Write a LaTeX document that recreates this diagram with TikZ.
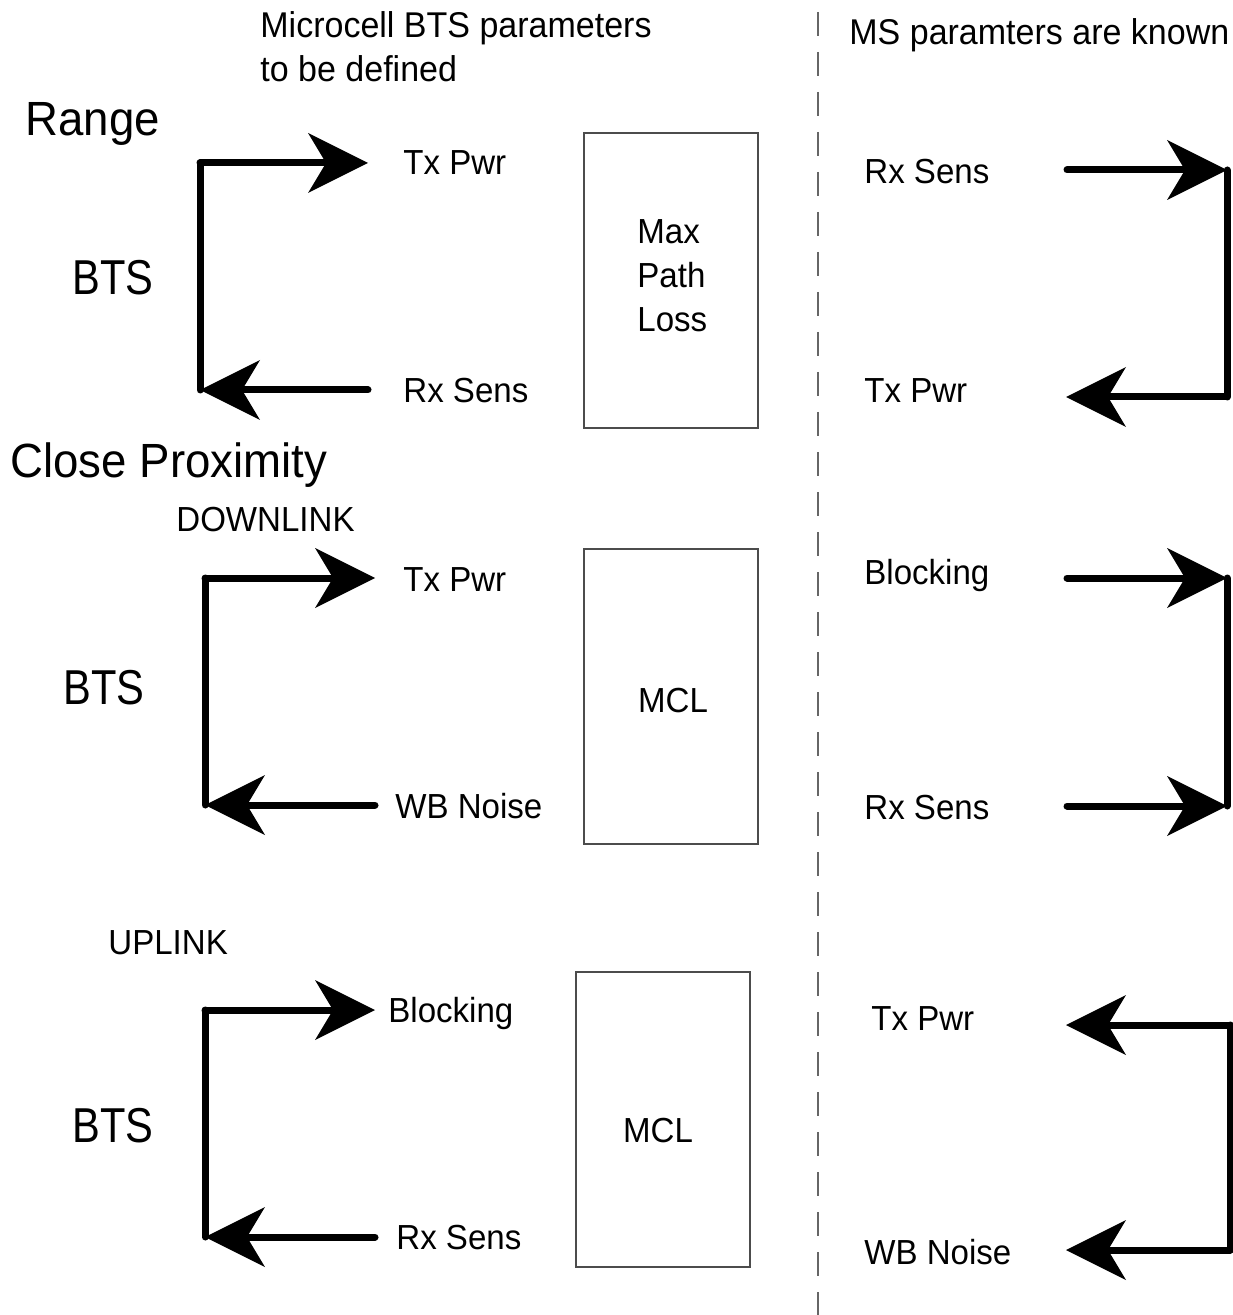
\documentclass[tikz,border=0pt]{standalone}
\usepackage{fontspec}
\setmainfont[FakeStretch=0.95]{Liberation Sans}
\newfontfamily\btsfont[FakeStretch=0.85]{Liberation Sans}
\usetikzlibrary{arrows.meta}
\begin{document}
\begin{tikzpicture}[x=0.5pt,y=-0.5pt,
  lbl/.style={anchor=base west, inner sep=0pt, font=\fontsize{17.4}{20}\selectfont},
  hdr/.style={anchor=base west, inner sep=0pt, font=\fontsize{17.9}{22}\selectfont},
  big/.style={anchor=base west, inner sep=0pt, font=\fontsize{24}{28}\selectfont},
  bts/.style={anchor=base west, inner sep=0pt, font=\btsfont\fontsize{24.5}{28}\selectfont},
  boxtxt/.style={inner sep=0pt, font=\fontsize{17.4}{20}\selectfont},
  bar/.style={line width=3.5pt, line cap=round},
  arr/.style={line width=3.5pt, line cap=round, -{Stealth[length=30pt,width=30pt,inset=9pt,line width=0pt]}},
  box/.style={draw=black!70, line width=0.6pt, inner sep=0pt},
  divider/.style={draw=black!60, line width=0.9pt, dash pattern=on 12pt off 8pt}
]
\useasboundingbox (0,0) rectangle (1232,1315);

% divider
\coordinate (dtop) at (818,12);
\coordinate (dbot) at (818,1315);
\draw[divider] (dtop) -- (dbot);

% headings
\node[hdr] (t1) at (260,38) {Microcell BTS parameters};
\node[hdr] (t2) at (260,82) {to be defined};
\node[hdr] (t3) at (849,45) {MS paramters are known};

% ---------- Range ----------
\node[big] (range) at (25,136) {Range};
\node[bts] (bts1) at (72,295) {BTS};
\node[lbl] (tx1) at (403,175) {Tx Pwr};
\node[lbl] (rx1) at (403,402) {Rx Sens};
\node[box, minimum width=87pt, minimum height=147.5pt] (mpl) at (671,280.5) {};
\node[boxtxt, anchor=base west] (mx) at (637,244) {Max};
\node[boxtxt, anchor=base west] (pa) at (637,288) {Path};
\node[boxtxt, anchor=base west] (lo) at (637,332) {Loss};
\node[lbl] (mrx1) at (864,184) {Rx Sens};
\node[lbl] (mtx1) at (864,403) {Tx Pwr};

\coordinate (l1t) at (200,163);
\coordinate (l1b) at (200,390);
\coordinate (l1tip) at (368,163);
\coordinate (l1tail) at (368,390);
\draw[bar] (l1t) -- (l1b);
\draw[arr] (l1t) -- (l1tip);
\draw[arr] (l1tail) -- (l1b);

\coordinate (r1t) at (1227,170);
\coordinate (r1b) at (1227,397);
\coordinate (r1tail) at (1067,170);
\coordinate (r1tip) at (1066,397);
\draw[bar] (r1t) -- (r1b);
\draw[arr] (r1tail) -- (r1t);
\draw[arr] (r1b) -- (r1tip);

% ---------- Close proximity / downlink ----------
\node[big] (close) at (10,477) {Close Proximity};
\node[lbl] (down) at (176,531) {DOWNLINK};
\node[bts] (bts2) at (63,704) {BTS};
\node[lbl] (tx2) at (403,591) {Tx Pwr};
\node[lbl] (wb2) at (395,818) {WB Noise};
\node[box, minimum width=87pt, minimum height=147.5pt] (mcl2) at (671,696.5) {};
\node[boxtxt] (mcl2t) at (673,701) {MCL};
\node[lbl] (mbl2) at (864,584) {Blocking};
\node[lbl] (mrx2) at (864,819) {Rx Sens};

\coordinate (l2t) at (205,578);
\coordinate (l2b) at (205,805);
\coordinate (l2tip) at (375,578);
\coordinate (l2tail) at (375,805);
\draw[bar] (l2t) -- (l2b);
\draw[arr] (l2t) -- (l2tip);
\draw[arr] (l2tail) -- (l2b);

\coordinate (r2t) at (1227,578);
\coordinate (r2b) at (1227,806);
\coordinate (r2tailt) at (1067,578);
\coordinate (r2tailb) at (1067,806);
\draw[bar] (r2t) -- (r2b);
\draw[arr] (r2tailt) -- (r2t);
\draw[arr] (r2tailb) -- (r2b);

% ---------- Uplink ----------
\node[lbl] (up) at (108,954) {UPLINK};
\node[bts] (bts3) at (72,1142) {BTS};
\node[lbl] (bl3) at (388,1022) {Blocking};
\node[lbl] (rx3) at (396,1249) {Rx Sens};
\node[box, minimum width=87pt, minimum height=147.5pt] (mcl3) at (663,1119.5) {};
\node[boxtxt] (mcl3t) at (658,1131) {MCL};
\node[lbl] (mtx3) at (871,1030) {Tx Pwr};
\node[lbl] (mwb3) at (864,1264) {WB Noise};

\coordinate (l3t) at (205,1010);
\coordinate (l3b) at (205,1237);
\coordinate (l3tip) at (375,1010);
\coordinate (l3tail) at (375,1237);
\draw[bar] (l3t) -- (l3b);
\draw[arr] (l3t) -- (l3tip);
\draw[arr] (l3tail) -- (l3b);

\coordinate (r3t) at (1230,1025);
\coordinate (r3b) at (1230,1250);
\coordinate (r3tipt) at (1066,1025);
\coordinate (r3tipb) at (1066,1250);
\draw[bar] (r3t) -- (r3b);
\draw[arr] (r3t) -- (r3tipt);
\draw[arr] (r3b) -- (r3tipb);
\end{tikzpicture}
\end{document}
